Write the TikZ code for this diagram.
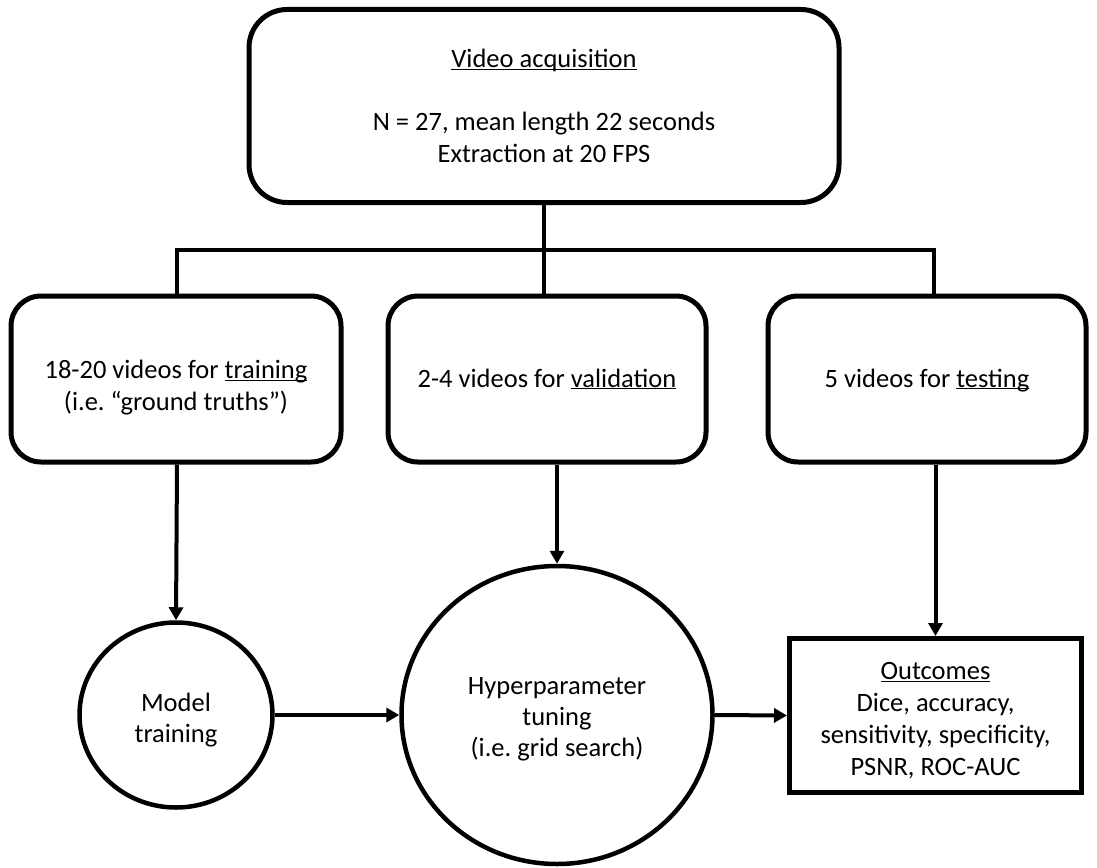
\documentclass[tikz,border=0pt]{standalone}
\usepackage{fontspec}
\setmainfont{Carlito}
\usetikzlibrary{arrows.meta,positioning,shapes.geometric}
\newcommand{\undl}[1]{\underline{\raisebox{0pt}[\height][0pt]{#1}}}
\newcommand{\lift}[1]{\rule{0pt}{#1}}

\begin{document}
\begin{tikzpicture}[
  x=1pt, y=-1pt,
  font=\fontsize{26.5}{32}\selectfont\frenchspacing,
  box/.style={rectangle, rounded corners=30pt, draw, line width=5pt,
              align=center, inner sep=0pt},
  split/.style={box, minimum width=318pt, minimum height=166pt},
  oval/.style={ellipse, draw, line width=4.5pt, align=center, inner sep=0pt,
               font=\fontsize{26.5}{31}\selectfont\frenchspacing},
  link/.style={line width=4pt},
  arr/.style={link, -{Triangle[length=13pt,width=14pt]}}
]
\useasboundingbox (0,0) rectangle (1097,867);
% top
\node[box, rounded corners=38pt, minimum width=590pt, minimum height=193pt]
  (acq) at (544,106)
  {\undl{Video acquisition}\\[31pt]N = 27, mean length 22 seconds\\Extraction at 20 FPS};
% split row
\node[split, minimum width=330pt] (train) at (176,379)
  {\lift{36pt}18-20 videos for \undl{training}\\(i.e. “ground truths”)};
\node[split] (val)  at (547,379) {2-4 videos for \undl{validation}};
\node[split] (test) at (927,379) {5 videos for \undl{testing}};
% bottom row
\node[oval, minimum width=193pt, minimum height=185pt] (model) at (176,715)
  {\lift{29pt}Model\\training};
\node[oval, minimum width=311pt, minimum height=298pt] (hyper) at (557,715)
  {\lift{26pt}Hyperparameter\\tuning\\(i.e. grid search)};
\node[rectangle, draw, line width=5pt, minimum width=292pt, minimum height=154pt,
      align=center, inner sep=0pt] (outc) at (935.5,715.5)
  {\lift{28pt}\undl{Outcomes}\\Dice, accuracy,\\sensitivity, specificity,\\PSNR, ROC-AUC};
% bus
\coordinate (busL) at (177,250);
\coordinate (busR) at (934,250);
\draw[link] (acq.south) -- (acq.south |- val.north);
\draw[link] (busL |- train.north) -- (busL) -- (busR) -- (busR |- test.north);
% arrows
\draw[arr] (busL |- train.south) -- (model.north);
\draw[arr] (hyper.north |- val.south) -- (hyper.north);
\draw[arr] (outc.north |- test.south) -- (outc.north);
\draw[arr] (model.east) -- (hyper.west);
\draw[arr] (hyper.east) -- (outc.west);
\end{tikzpicture}
\end{document}
